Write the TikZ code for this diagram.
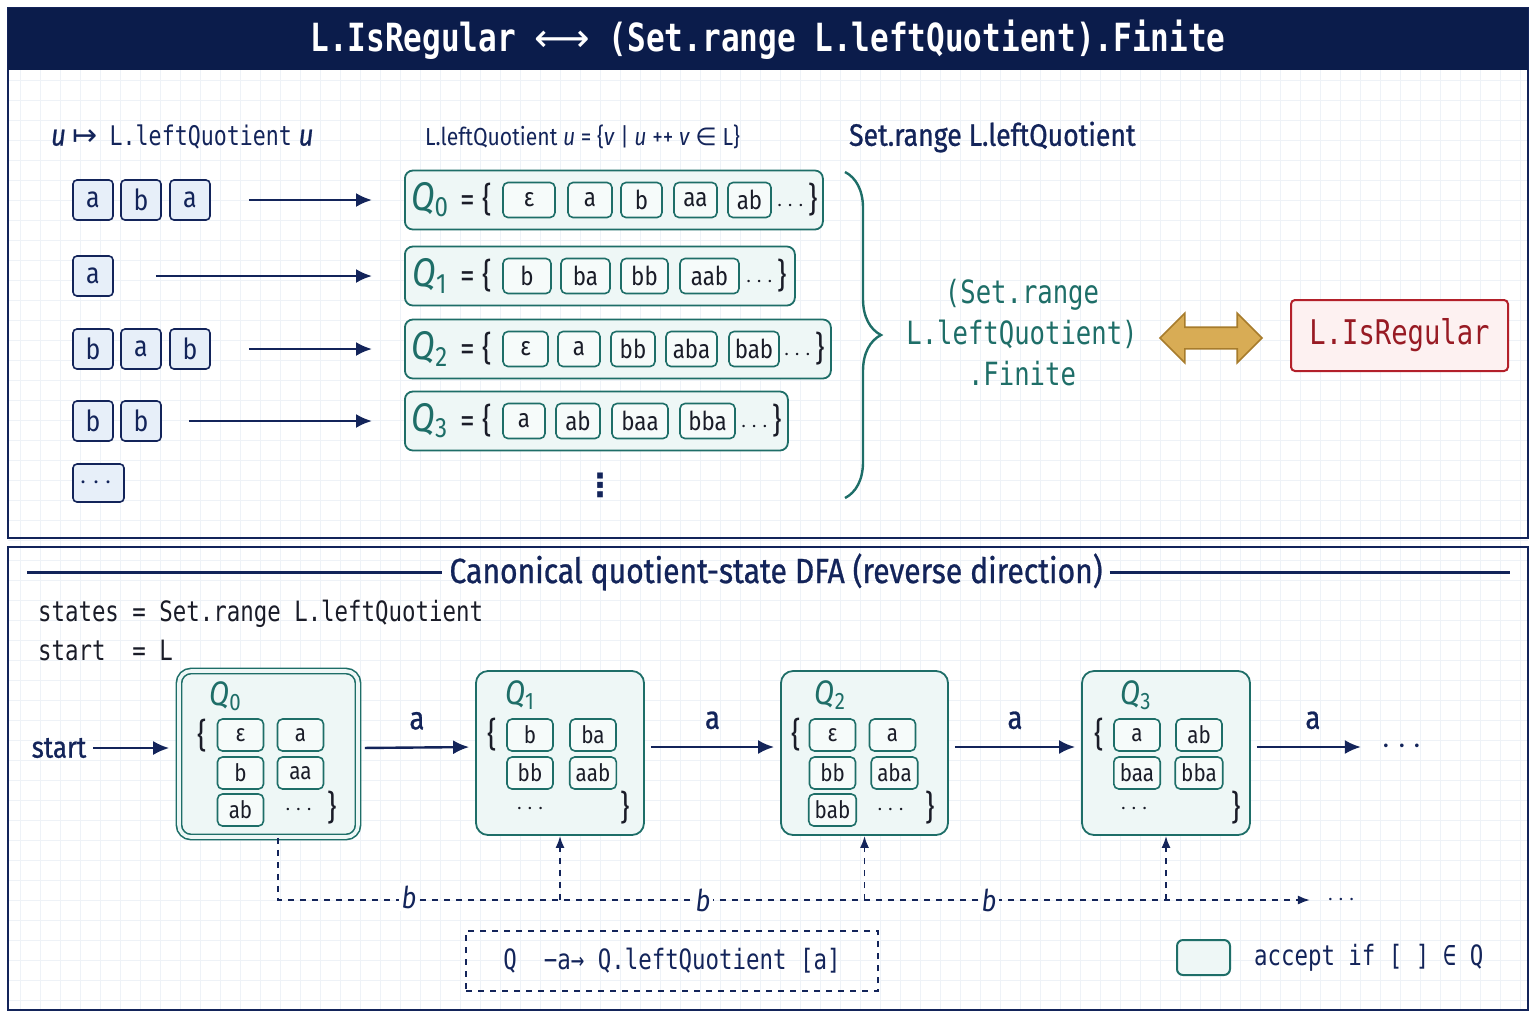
\documentclass[tikz,border=0pt]{standalone}
\usepackage{fontspec}
\usepackage{amsmath}
\setmainfont[FakeStretch=0.86]{Fira Sans}
\setmonofont[FakeStretch=0.8]{DejaVu Sans Mono}
\newfontfamily\medfont[FakeStretch=0.86, FakeBold=0.8]{Fira Sans}
\newfontfamily\symfont{DejaVu Sans}
\usetikzlibrary{arrows.meta}
\usetikzlibrary{positioning}
\usetikzlibrary{shapes.arrows}
\usetikzlibrary{decorations.pathreplacing}

\definecolor{navy}{HTML}{13245A}
\definecolor{barnavy}{HTML}{0B1C4B}
\definecolor{qteal}{HTML}{1E6E68}
\definecolor{qfill}{HTML}{EEF7F6}
\definecolor{wfill}{HTML}{E7EFF9}
\definecolor{regred}{HTML}{B3202A}
\definecolor{regfill}{HTML}{FDF1F1}
\definecolor{gold}{HTML}{D8AC55}
\definecolor{golddark}{HTML}{A77C2C}
\definecolor{gridc}{HTML}{EEF2F7}
\definecolor{ink}{HTML}{1A1C28}

\tikzset{>={Latex[width=7pt,length=8pt]},
  letter/.style={draw=navy, fill=wfill, rounded corners=2pt, line width=0.8pt,
    minimum width=20pt, minimum height=20pt, inner sep=0pt, text=navy,
    font=\fontsize{14.5}{16}\selectfont},
  rowbox/.style={draw=qteal, fill=qfill, rounded corners=4pt, line width=0.9pt,
    minimum height=29.5pt, anchor=west},
  word/.style={draw=qteal, fill=qfill!50!white, rounded corners=2.5pt, line width=0.8pt,
    minimum height=17.5pt, inner sep=0pt, text=ink,
    font=\fontsize{13}{15}\selectfont},
  cell/.style={word, minimum width=23pt, minimum height=16pt, inner xsep=3pt,
    font=\fontsize{12}{14}\selectfont},
  qlab/.style={text=qteal, font=\itshape\fontsize{20}{22}\selectfont},
  slab/.style={text=qteal, font=\itshape\fontsize{17}{19}\selectfont},
  brc/.style={text=ink, font=\fontsize{17}{19}\selectfont},
  dts/.style={text=ink, font=\fontsize{12}{14}\selectfont},
  state/.style={draw=qteal, fill=qfill, rounded corners=6pt, line width=0.9pt,
    minimum width=84pt, minimum height=82pt},
  map/.style={->, navy, line width=1.2pt},
  alab/.style={text=navy, font=\medfont\fontsize{16}{18}\selectfont},
  blab/.style={fill=white, inner sep=1.5pt, text=navy, font=\itshape\fontsize{15}{17}\selectfont},
  bline/.style={navy, dashed, line width=0.9pt, -{Latex[length=6pt,width=4.5pt]}},
}

\begin{document}
\begin{tikzpicture}[x=0.5pt,y=-0.5pt]

  \useasboundingbox (0,0) rectangle (1536,1024);
  \fill[white] (0,0) rectangle (1536,1024);
  \draw[gridc, line width=0.4pt, step=10pt] (8,8) grid (1528,1010);

  % top panel
  \draw[navy, line width=1.3pt] (8,8) rectangle (1528,538);
  \fill[barnavy] (8,8) rectangle (1528,70);
  \node[text=white, font=\ttfamily\bfseries\fontsize{19.4}{24}\selectfont] (title) at (768,40)
    {L.IsRegular {\symfont\mdseries ⟷} (Set.range L.leftQuotient).Finite};

  \node[anchor=west, text=navy, font=\medfont\fontsize{15}{17}\selectfont] (lqmap) at (44,137)
    {\textit{u} {\symfont ↦}\, {\ttfamily\fontsize{13.5}{16}\selectfont L.leftQuotient} \textit{u}};
  \node[anchor=west, text=navy, font=\fontsize{12.3}{15}\selectfont] (lqdef) at (418,137)
    {L.leftQuotient \textit{u} = \{\textit{v} | \textit{u} ++ \textit{v} {\symfont ∈} L\}};
  \node[anchor=west, text=navy, font=\medfont\fontsize{15.5}{17}\selectfont] (rng) at (842,137)
    {Set.range L.leftQuotient};

  \node[letter] (w00) at (93,200) {a};
  \node[letter] (w01) at (141,200) {b};
  \node[letter] (w02) at (190,200) {a};
  \node[letter] (w10) at (93,276) {a};
  \node[letter] (w20) at (93,349) {b};
  \node[letter] (w21) at (141,349) {a};
  \node[letter] (w22) at (190,349) {b};
  \node[letter] (w30) at (93,421) {b};
  \node[letter] (w31) at (141,421) {b};
  \node[letter, minimum width=25.5pt, minimum height=19pt] (w40) at (98.5,483) {$\cdots$};

  \node[rowbox, minimum width=209pt] (q0) at (404,200) {};
  \node[rowbox, minimum width=195pt] (q1) at (404,276) {};
  \node[rowbox, minimum width=213pt] (q2) at (404,349) {};
  \node[rowbox, minimum width=191.5pt] (q3) at (404,421) {};

  \draw[map] ([xshift=19pt]w02.east) -- ([xshift=-16pt]q0.west);
  \draw[map] ([xshift=21pt]w10.east) -- ([xshift=-16pt]q1.west);
  \draw[map] ([xshift=19pt]w22.east) -- ([xshift=-16pt]q2.west);
  \draw[map] ([xshift=13.5pt]w31.east) -- ([xshift=-16pt]q3.west);

  \node[qlab] (ql0) at (430,200) {Q\textsubscript{\upshape 0}};
  \node[brc] (qe0) at (476,200) {= \{};
  \foreach \t/\x/\w [count=\i] in {ε/529/26, a/590/22, b/641.5/20.5, aa/695.5/21.5, ab/749.5/21.5}
    \node[word, minimum width=\w pt] (e0\i) at (\x,200) {\t};
  \node[brc] (qd0) at (797,200) {{\fontsize{13}{15}\selectfont$\cdots$}\}};

  \node[qlab] (ql1) at (430,276) {Q\textsubscript{\upshape 1}};
  \node[brc] (qe1) at (476,276) {= \{};
  \foreach \t/\x/\w [count=\i] in {b/527/24, ba/585.5/24.5, bb/644.5/23.5, aab/709.5/29.5}
    \node[word, minimum width=\w pt] (e1\i) at (\x,276) {\t};
  \node[brc] (qd1) at (766,276) {{\fontsize{13}{15}\selectfont$\cdots$}\}};

  \node[qlab] (ql2) at (430,349) {Q\textsubscript{\upshape 2}};
  \node[brc] (qe2) at (476,349) {= \{};
  \foreach \t/\x/\w [count=\i] in {ε/525.5/22.5, a/579/21, bb/633/22, aba/691.5/25.5, bab/754/25}
    \node[word, minimum width=\w pt] (e2\i) at (\x,349) {\t};
  \node[brc] (qd2) at (804,349) {{\fontsize{13}{15}\selectfont$\cdots$}\}};

  \node[qlab] (ql3) at (430,421) {Q\textsubscript{\upshape 3}};
  \node[brc] (qe3) at (476,421) {= \{};
  \foreach \t/\x/\w [count=\i] in {a/524/21, ab/578/22, baa/640/28, bba/707.5/27.5}
    \node[word, minimum width=\w pt] (e3\i) at (\x,421) {\t};
  \node[brc] (qd3) at (761,421) {{\fontsize{13}{15}\selectfont$\cdots$}\}};

  \node[text=navy, font=\symfont\bfseries\fontsize{16}{18}\selectfont] (vd) at (600,485) {⋮};

  \coordinate (bt) at (845,172);
  \coordinate (bb) at (845,498);
  \draw[qteal, line width=1.2pt, decorate, decoration={brace, amplitude=18pt}] (bt) -- (bb);

  \node[text=qteal, align=center, font=\ttfamily\fontsize{16}{20.5}\selectfont] (fin) at (1022,333)
    {(Set.range\\L.leftQuotient)\\.Finite};
  \node[double arrow, fill=gold, draw=golddark, line width=0.8pt, minimum height=51pt,
    inner sep=5pt, double arrow head extend=7pt] (iff) at (1211,338) {};
  \node[draw=regred, fill=regfill, line width=1pt, rounded corners=2pt, minimum width=108.5pt,
    minimum height=35.5pt, text=regred!85!black, font=\ttfamily\fontsize{17}{20}\selectfont]
    (reg) at (1399.5,335.5) {L.IsRegular};

  % bottom panel
  \draw[navy, line width=1.3pt] (8,547) rectangle (1528,1010);
  \node[text=navy, font=\medfont\fontsize{17.5}{19}\selectfont] (hd) at (776,572)
    {Canonical quotient-state DFA (reverse direction)};
  \coordinate (hl) at (27,572);
  \coordinate (hr) at (1510,572);
  \draw[navy, line width=1.5pt] (hl) -- (hd.west) (hd.east) -- (hr);

  \node[anchor=west, text=ink, font=\ttfamily\fontsize{14}{16}\selectfont] (sts) at (31,614)
    {states = Set.range L.leftQuotient};
  \node[anchor=west, text=ink, font=\ttfamily\fontsize{14}{16}\selectfont] (stt) at (31,650)
    {start~ = L};

  \node[state, minimum width=89.5pt, minimum height=83pt, line width=0.8pt,
    double=qfill, double distance=1.8pt] (s0) at (268.5,754) {};
  \node[state] (s1) at (560,753) {};
  \node[state, minimum width=83.5pt] (s2) at (864.5,753) {};
  \node[state] (s3) at (1166,753) {};

  \node[slab] (l0) at ([shift={(-43,-58)}]s0.center) {Q\textsubscript{\upshape 0}};
  \node[brc] (o0) at ([shift={(-66,-18)}]s0.center) {\{};
  \foreach \t/\dx/\dy [count=\i] in {ε/-28/-19, a/32/-19, b/-28/19, aa/32/19, ab/-28/56}
    \node[cell] (c0\i) at ([shift={(\dx,\dy)}]s0.center) {\t};
  \node[dts] (d0) at ([shift={(32,56)}]s0.center) {$\cdots$};
  \node[brc] (x0) at ([shift={(64,54)}]s0.center) {\}};

  \node[slab] (l1) at ([shift={(-40,-58)}]s1.center) {Q\textsubscript{\upshape 1}};
  \node[brc] (o1) at ([shift={(-68,-18)}]s1.center) {\{};
  \foreach \t/\dx/\dy [count=\i] in {b/-30/-18, ba/33/-18, bb/-30/20, aab/33/20}
    \node[cell] (c1\i) at ([shift={(\dx,\dy)}]s1.center) {\t};
  \node[dts] (d1) at ([shift={(-28,56)}]s1.center) {$\cdots$};
  \node[brc] (x1) at ([shift={(65,55)}]s1.center) {\}};

  \node[slab] (l2) at ([shift={(-34,-58)}]s2.center) {Q\textsubscript{\upshape 2}};
  \node[brc] (o2) at ([shift={(-68,-18)}]s2.center) {\{};
  \foreach \t/\dx/\dy [count=\i] in {ε/-32/-18, a/28/-18, bb/-32/20, aba/30/20, bab/-32/57}
    \node[cell] (c2\i) at ([shift={(\dx,\dy)}]s2.center) {\t};
  \node[dts] (d2) at ([shift={(28,57)}]s2.center) {$\cdots$};
  \node[brc] (x2) at ([shift={(66,55)}]s2.center) {\}};

  \node[slab] (l3) at ([shift={(-30,-58)}]s3.center) {Q\textsubscript{\upshape 3}};
  \node[brc] (o3) at ([shift={(-67,-18)}]s3.center) {\{};
  \foreach \t/\dx/\dy [count=\i] in {a/-29/-18, ab/33/-18, baa/-29/20, bba/33/20}
    \node[cell] (c3\i) at ([shift={(\dx,\dy)}]s3.center) {\t};
  \node[dts] (d3) at ([shift={(-30,56)}]s3.center) {$\cdots$};
  \node[brc] (x3) at ([shift={(70,55)}]s3.center) {\}};

  \node[text=navy, font=\medfont\fontsize{15}{17}\selectfont] (st) at (59,748) {start};
  \node[text=navy, font=\bfseries\fontsize{16}{18}\selectfont] (more) at (1405,747) {$\cdots$};

  \draw[map, shorten >=4.5pt] (st.east) -- (st.east -| s0.west);
  \draw[map, shorten <=3pt, shorten >=3pt] ([yshift=3pt]s0.east) --
    node[above=5pt, alab] {a} ([yshift=3pt]s1.west);
  \draw[map, shorten <=3pt, shorten >=3pt] ([yshift=3pt]s1.east) --
    node[above=5pt, alab] {a} ([yshift=3pt]s2.west);
  \draw[map, shorten <=3pt, shorten >=3pt] ([yshift=3pt]s2.east) --
    node[above=5pt, alab] {a} ([yshift=3pt]s3.west);
  \draw[map, shorten <=3pt, shorten >=7pt] ([yshift=3pt]s3.east) --
    node[above=5pt, alab] {a} (more.west);

  \coordinate (bj) at (278,900);
  \node[text=navy, font=\fontsize{12}{14}\selectfont] (moreb) at (1343,900) {$\cdots$};
  \draw[bline, shorten >=5pt] (s0.south -| bj) |- (moreb.west);
  \draw[bline] (s1.south |- bj) -- (s1.south);
  \draw[bline] (s2.south |- bj) -- (s2.south);
  \draw[bline] (s3.south |- bj) -- (s3.south);
  \node[blab] (b1) at (409,897) {b};
  \node[blab] (b2) at (703,900) {b};
  \node[blab] (b3) at (989,900) {b};

  \node[draw=navy, dashed, line width=0.8pt, minimum width=206pt, minimum height=30pt,
    text=navy, font=\ttfamily\fontsize{14}{16}\selectfont] (rule) at (672,961)
    {Q~ −a→ Q.leftQuotient [a]};
  \node[draw=qteal, fill=qfill, line width=1pt, rounded corners=3pt, minimum width=26.5pt,
    minimum height=17.5pt] (acc) at (1203.5,957.5) {};
  \node[right=8pt of acc, text=navy, font=\ttfamily\fontsize{14}{16}\selectfont] (acct)
    {accept if [ ] ∈ Q};

\end{tikzpicture}
\end{document}
